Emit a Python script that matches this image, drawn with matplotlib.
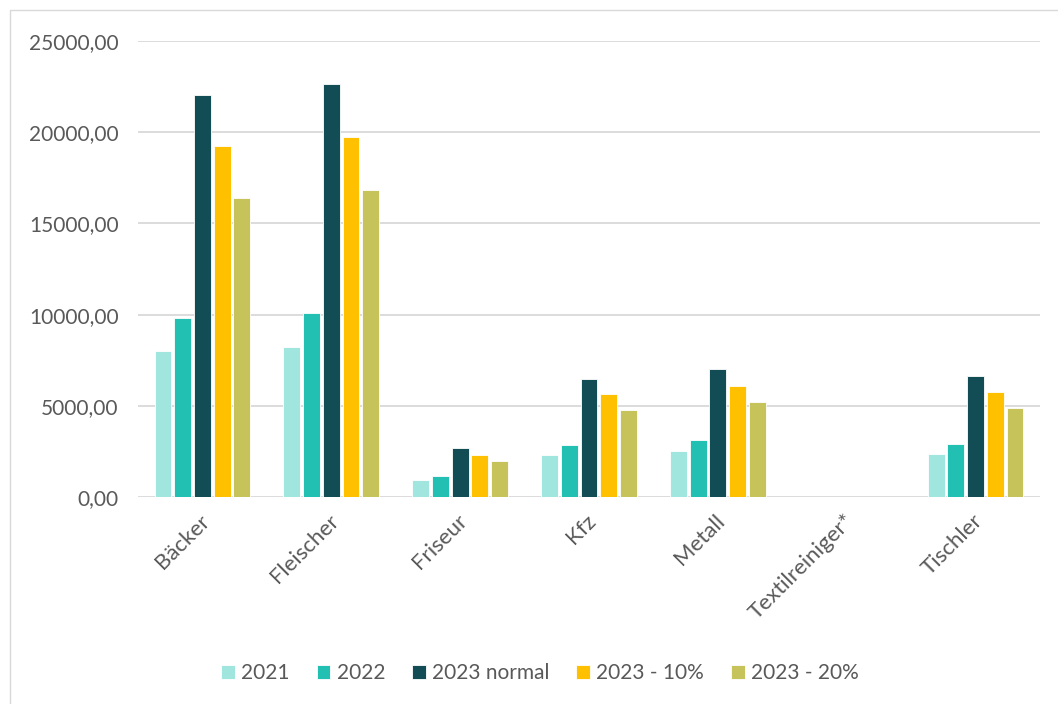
import numpy as np
import matplotlib
matplotlib.use("Agg")
import matplotlib.pyplot as plt
from matplotlib.patches import Rectangle
from matplotlib.transforms import ScaledTranslation

plt.rcParams['font.family'] = ['Lato', 'DejaVu Sans']

categories = ["Bäcker", "Fleischer", "Friseur", "Kfz", "Metall", "Textilreiniger*", "Tischler"]
series_names = ["2021", "2022", "2023 normal", "2023 - 10%", "2023 - 20%"]
v2021 = [8000, 8220, 930, 2300, 2520, 0, 2360]
v2022 = [9830, 10080, 1150, 2850, 3120, 0, 2900]
v2023 = [22030, 22620, 2670, 6450, 7010, 0, 6610]
v2023_10 = [19220, 19710, 2300, 5630, 6100, 0, 5750]
v2023_20 = [16390, 16820, 1960, 4790, 5200, 0, 4890]
colors = ["#A1E5DF", "#22BFB3", "#124C54", "#FFC000", "#C6C35A"]

series = [v2021, v2022, v2023, v2023_10, v2023_20]

fig = plt.figure(figsize=(10.58, 7.04), dpi=100)
ax = fig.add_axes([138 / 1058, 1 - 497 / 704, 902 / 1058, 456 / 704])

x = np.arange(len(categories))
step = 0.153
width = 0.13
for i, (vals, col, name) in enumerate(zip(series, colors, series_names)):
    ax.bar(x + (i - 2) * step, vals, width, color=col, label=name,
           edgecolor="white", linewidth=0.6)

ax.set_xlim(-0.5, len(categories) - 0.5)
ax.set_ylim(0, 25000)
ax.set_yticks(np.arange(0, 25001, 5000))
ax.set_yticklabels([f"{v},00" for v in range(0, 25001, 5000)])
ax.set_xticks(x)
ax.set_xticklabels(categories, rotation=45, ha="right", rotation_mode="anchor")
ax.tick_params(axis="y", length=0, labelsize=15, colors="#595959", pad=14)
ax.tick_params(axis="x", length=0, labelsize=16, colors="#595959", pad=10)
for lbl in ax.get_xticklabels():
    lbl.set_transform(lbl.get_transform() + ScaledTranslation(-0.03, 0, fig.dpi_scale_trans))
ax.grid(axis="y", color="#D9D9D9", linewidth=1.3)
ax.set_axisbelow(True)
for s in ax.spines.values():
    s.set_visible(False)

ax.legend(loc="center", bbox_to_anchor=(540 / 1058, 1 - 673 / 704),
          bbox_transform=fig.transFigure, ncol=5, frameon=False,
          fontsize=15, labelcolor="#595959", handlelength=0.65, handleheight=0.65,
          handletextpad=0.3, columnspacing=1.3)

fig.patches.append(Rectangle((10 / 1058, -0.01), 1.1, 1 - 10 / 704 + 0.01,
                             transform=fig.transFigure, fill=False,
                             edgecolor="#D9D9D9", linewidth=1))

fig.savefig("out.png", dpi=100)
